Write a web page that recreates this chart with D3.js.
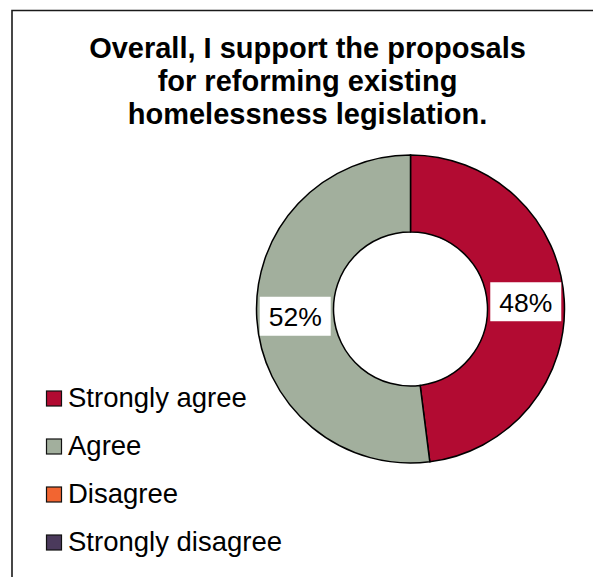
<!DOCTYPE html>
<html>
<head>
<meta charset="utf-8">
<script src="https://cdn.jsdelivr.net/npm/d3@7"></script>
<style>
  html, body { margin: 0; padding: 0; background: #fff; }
  svg { display: block; }
  text { font-family: Arial, "Liberation Sans", sans-serif; }
</style>
</head>
<body>
<svg id="chart" width="593" height="577"></svg>
<script>
// Survey responses
const categories = ["Strongly agree", "Agree", "Disagree", "Strongly disagree"];
const values = [48, 52, 0, 0];
const colors = ["#B20B32", "#A2AF9D", "#F26531", "#4B3A5C"];
const titleLines = ["Overall, I support the proposals", "for reforming existing", "homelessness legislation."];

const svg = d3.select("#chart");
const W = 593, H = 577;

// Chart frame (top and left edges)
svg.append("path")
  .attr("d", `M12,${H} L12,10.5 L${W},10.5`)
  .attr("fill", "none")
  .attr("stroke", "#1a1a1a")
  .attr("stroke-width", 1.6);

// Title
const title = svg.append("text")
  .attr("text-anchor", "middle")
  .attr("font-size", 29)
  .attr("font-weight", "bold")
  .attr("fill", "#000");
titleLines.forEach((line, i) => {
  title.append("tspan")
    .attr("x", 307.5)
    .attr("y", 58 + i * 33)
    .text(line);
});

// Doughnut
const cx = 410.5, cy = 309, outerR = 154, innerR = 77;
const pie = d3.pie().sort(null).value(d => d.value);
const arcs = pie(categories.map((c, i) => ({ name: c, value: values[i], color: colors[i] })));
const arc = d3.arc().innerRadius(innerR).outerRadius(outerR);
const midR = (innerR + outerR) / 2;
const labelArc = d3.arc().innerRadius(midR).outerRadius(midR);

const g = svg.append("g").attr("transform", `translate(${cx},${cy})`);
g.selectAll("path.slice")
  .data(arcs.filter(d => d.value > 0))
  .join("path")
  .attr("class", "slice")
  .attr("d", arc)
  .attr("fill", d => d.data.color)
  .attr("stroke", "#000")
  .attr("stroke-width", 1.5);

// Percentage labels on white boxes
const total = d3.sum(values);
const labels = g.selectAll("g.label")
  .data(arcs.filter(d => d.value > 0))
  .join("g")
  .attr("class", "label")
  .attr("transform", d => `translate(${labelArc.centroid(d)})`);
labels.append("rect")
  .attr("x", -35.5)
  .attr("y", -19.5)
  .attr("width", 71)
  .attr("height", 39)
  .attr("fill", "#fff");
labels.append("text")
  .attr("text-anchor", "middle")
  .attr("dominant-baseline", "central")
  .attr("y", 1)
  .attr("font-size", 26.5)
  .attr("fill", "#000")
  .text(d => Math.round(d.value / total * 100) + "%");

// Legend
const legend = svg.append("g");
const rowY = d3.scalePoint().domain(categories).range([398.5, 542.5]);
categories.forEach((c, i) => {
  const y = rowY(c);
  legend.append("rect")
    .attr("x", 46.5)
    .attr("y", y - 7.5)
    .attr("width", 15)
    .attr("height", 15)
    .attr("fill", colors[i])
    .attr("stroke", "#111")
    .attr("stroke-width", 1.2);
  legend.append("text")
    .attr("x", 68)
    .attr("y", y + 8.5)
    .attr("font-size", 27.5)
    .attr("fill", "#000")
    .text(c);
});
</script>
</body>
</html>
